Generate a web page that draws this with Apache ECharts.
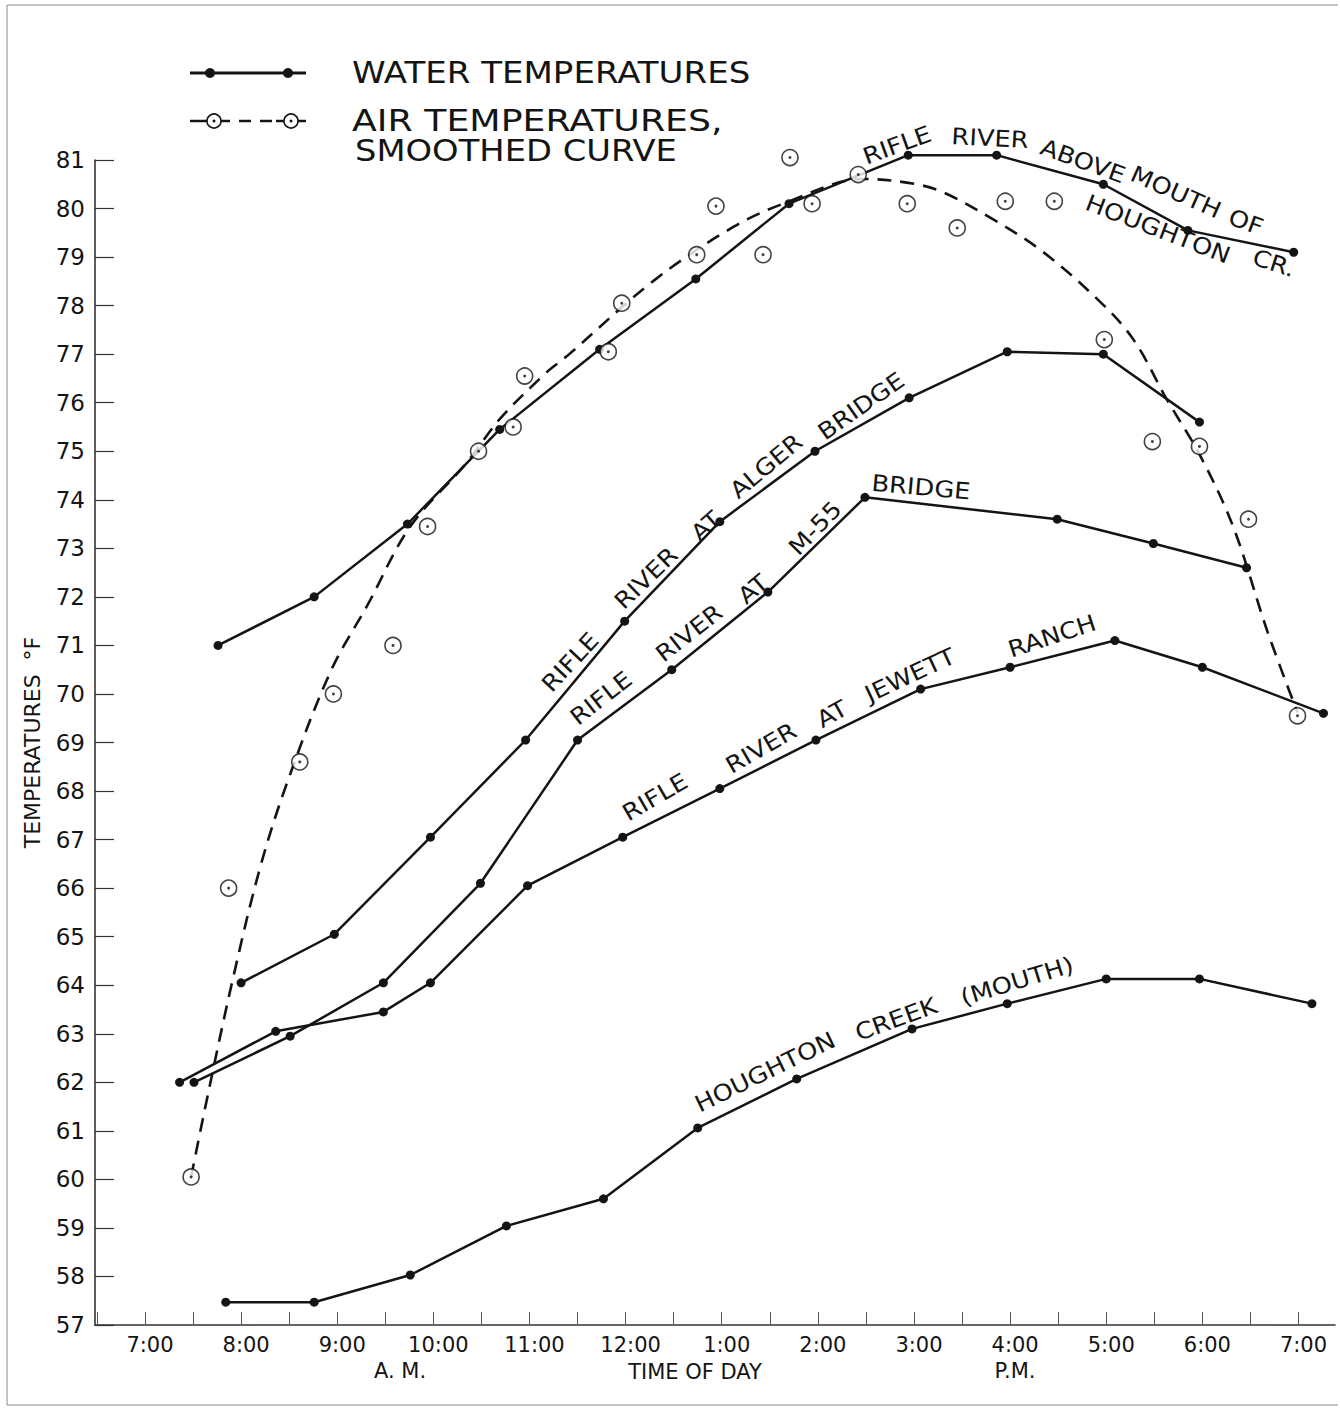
<!DOCTYPE html>
<html><head><meta charset="utf-8">
<script src="https://cdn.jsdelivr.net/npm/echarts@6/dist/echarts.min.js"></script>
<style>html,body{margin:0;padding:0;background:#fff}#c{width:1340px;height:1409px}</style>
</head><body><div id="c"></div>
<script>
// ---- axis ticks / labels (hours of day, 24h clock) ----
const xLabelHours = [7, 8, 9, 10, 11, 12, 13, 14, 15, 16, 17, 18, 19];
const xTickHours = [6.5, 7, 7.5, 8, 8.5, 9, 9.5, 10, 10.5, 11, 11.5, 12, 12.5, 13, 13.5, 14, 14.5, 15, 15.5, 16, 16.5, 17, 17.5, 18, 18.5, 19];

// ---- water temperatures (°F) ----
const aboveHours = [7.76, 8.76, 9.73, 10.69, 11.73, 12.73, 13.70, 14.94, 15.86, 16.97, 17.85, 18.95];
const aboveTemps = [71.0, 72.0, 73.5, 75.45, 77.1, 78.55, 80.1, 81.1, 81.1, 80.5, 79.55, 79.1];

const algerHours = [8.00, 8.97, 9.97, 10.96, 11.99, 12.98, 13.97, 14.95, 15.97, 16.97, 17.97];
const algerTemps = [64.05, 65.05, 67.05, 69.05, 71.5, 73.55, 75.0, 76.1, 77.05, 77.0, 75.6];

const m55Hours = [7.51, 8.51, 9.48, 10.49, 11.50, 12.48, 13.48, 14.49, 16.49, 17.49, 18.46];
const m55Temps = [62.0, 62.95, 64.05, 66.1, 69.05, 70.5, 72.1, 74.05, 73.6, 73.1, 72.6];

const jewettHours = [7.36, 8.36, 9.48, 9.97, 10.98, 11.97, 12.98, 13.98, 15.07, 16.00, 17.09, 18.00, 19.26];
const jewettTemps = [62.0, 63.05, 63.45, 64.05, 66.05, 67.05, 68.05, 69.05, 70.1, 70.55, 71.1, 70.55, 69.6];

const houghtonHours = [7.84, 8.76, 9.76, 10.76, 11.77, 12.75, 13.78, 14.98, 15.97, 17.00, 17.97, 19.14];
const houghtonTemps = [57.47, 57.47, 58.03, 59.04, 59.6, 61.06, 62.07, 63.1, 63.62, 64.13, 64.13, 63.62];

// ---- air temperatures: observations and smoothed curve ----
const airObsHours = [7.48, 7.87, 8.61, 8.96, 9.58, 9.94, 10.47, 10.83, 10.95, 11.82, 11.96, 12.74, 12.94, 13.43, 13.71, 13.94, 14.42, 14.93, 15.45, 15.95, 16.46, 16.98, 17.48, 17.97, 18.48, 18.99];
const airObsTemps = [60.05, 66.0, 68.6, 70.0, 71.0, 73.45, 75.0, 75.5, 76.55, 77.05, 78.05, 79.05, 80.05, 79.05, 81.05, 80.1, 80.7, 80.1, 79.6, 80.15, 80.15, 77.3, 75.2, 75.1, 73.6, 69.55];

const airCurveHours = [7.48, 7.66, 7.92, 8.20, 8.48, 8.93, 9.32, 9.76, 10.35, 10.69, 11.18, 11.39, 12.29, 13.12, 13.68, 14.47, 15.00, 15.32, 15.82, 16.32, 16.91, 17.28, 17.63, 17.98, 18.32, 18.68, 18.99];
const airCurveTemps = [60.05, 61.8, 64.18, 66.44, 68.18, 70.46, 71.85, 73.45, 74.77, 75.66, 76.63, 76.96, 78.51, 79.62, 80.13, 80.61, 80.51, 80.32, 79.78, 79.14, 78.13, 77.31, 76.07, 74.9, 73.45, 71.27, 69.62];

const zip = (xs, ys) => xs.map((x, i) => [x, ys[i]]);
const INK = '#141414';
const FONT = '"DejaVu Sans", "Liberation Sans", sans-serif';

function waterSeries(name, xs, ys) {
  return {
    name, type: 'line', data: zip(xs, ys), symbol: 'circle', symbolSize: 9,
    lineStyle: { color: INK, width: 2.5 }, itemStyle: { color: INK },
    clip: false, z: 4, silent: true
  };
}

function word(text, cx, cy, deg, size, sx) {
  return {
    type: 'text', x: cx, y: cy, rotation: deg * Math.PI / 180, scaleX: sx || 1.12,
    style: { text, fill: INK, font: `${size || 23}px ${FONT}`, textAlign: 'center', textVerticalAlign: 'middle' },
    z: 10
  };
}

const labelWords = [
  ['RIFLE', 897, 145, 20], ['RIVER', 990, 138, -3], ['ABOVE', 1083, 161, -20], ['MOUTH', 1176, 192, -24], ['OF', 1246, 222, -20],
  ['HOUGHTON', 1158, 229, -21], ['CR.', 1274, 263, -18],
  ['RIFLE', 570, 662, 47], ['RIVER', 646, 578, 44], ['AT', 706, 526, 42], ['ALGER', 766, 466, 40], ['BRIDGE', 861, 406, 35],
  ['RIFLE', 601, 698, 38], ['RIVER', 689, 633, 38], ['AT', 753, 589, 40], ['M-55', 815, 528, 46], ['BRIDGE', 921, 487, -5],
  ['RIFLE', 655, 797, 30], ['RIVER', 761, 748, 30], ['AT', 832, 714, 29], ['JEWETT', 910, 675, 25], ['RANCH', 1052, 636, 18],
  ['HOUGHTON', 765, 1072, 26], ['CREEK', 896, 1019, 20], ['(MOUTH)', 1017, 981, 17]
];

function ring(cx, cy) {
  return [
    { type: 'circle', shape: { cx, cy, r: 7 }, style: { fill: '#fff', stroke: INK, lineWidth: 1.6 }, z: 10 },
    { type: 'circle', shape: { cx, cy, r: 1.5 }, style: { fill: INK }, z: 11 }
  ];
}
function seg(x1, y1, x2, y2, w) {
  return { type: 'line', shape: { x1, y1, x2, y2 }, style: { stroke: INK, lineWidth: w || 2.5 }, z: 9 };
}
function legendText(text, x, y, sx) {
  return { type: 'text', x, y, scaleX: sx, style: { text, fill: INK, font: `30px ${FONT}`, textAlign: 'left', textVerticalAlign: 'middle' } };
}

const graphics = [
  // page frame of the scanned sheet
  { type: 'polyline', shape: { points: [[1338, 5], [7, 5], [7, 1405], [1338, 1405]] }, style: { stroke: '#8a8a8a', lineWidth: 1, fill: null }, z: 0 },
  // legend: water
  seg(190, 73, 306, 73, 3),
  { type: 'circle', shape: { cx: 210, cy: 73, r: 5 }, style: { fill: INK }, z: 10 },
  { type: 'circle', shape: { cx: 288, cy: 73, r: 5 }, style: { fill: INK }, z: 10 },
  legendText('WATER TEMPERATURES', 352, 73, 1.135),
  // legend: air
  seg(190, 121, 207, 121), seg(221, 121, 230, 121), seg(239, 121, 251, 121), seg(260, 121, 272, 121), seg(276, 121, 284, 121), seg(298, 121, 306, 121),
  ...ring(214, 121), ...ring(291, 121),
  legendText('AIR TEMPERATURES,', 352, 121, 1.21),
  legendText('SMOOTHED CURVE', 355, 151, 1.125),
  // x-axis sub captions
  { type: 'text', x: 400, y: 1371, style: { text: 'A. M.', fill: INK, font: `21px ${FONT}`, textAlign: 'center', textVerticalAlign: 'middle' } },
  { type: 'text', x: 1015, y: 1371, style: { text: 'P.M.', fill: INK, font: `21px ${FONT}`, textAlign: 'center', textVerticalAlign: 'middle' } },
  ...labelWords.map(w => word(w[0], w[1], w[2], w[3]))
];

const chart = echarts.init(document.getElementById('c'), null, { renderer: 'svg' });
chart.setOption({
  animation: false,
  backgroundColor: '#fff',
  textStyle: { fontFamily: FONT, color: INK },
  grid: { left: 95, right: 5, top: 160, bottom: 84, containLabel: false },
  xAxis: {
    type: 'value', min: 6.48, max: 19.38,
    name: 'TIME OF DAY', nameLocation: 'middle', nameGap: 36,
    nameTextStyle: { fontSize: 21, color: INK, padding: [0, 40, 0, 0] },
    axisLine: { lineStyle: { color: '#333', width: 1.6 } },
    axisTick: { customValues: xTickHours, inside: true, length: 13, lineStyle: { color: '#555', width: 1 } },
    axisLabel: {
      customValues: xLabelHours, fontSize: 21, color: INK, margin: 9, padding: [0, 0, 0, 10],
      formatter: v => (((Math.round(v) - 1) % 12) + 1) + ':00'
    },
    splitLine: { show: false }
  },
  yAxis: {
    type: 'value', min: 57, max: 81, interval: 1,
    name: 'TEMPERATURES  °F', nameLocation: 'middle', nameGap: 52, nameRotate: 90,
    nameTextStyle: { fontSize: 22, color: INK },
    axisLine: { show: true, lineStyle: { color: '#333', width: 1.6 } },
    axisTick: { show: true, inside: true, length: 19, lineStyle: { color: '#333', width: 1.2 } },
    axisLabel: { fontSize: 23, color: INK, margin: 10 },
    splitLine: { show: false }
  },
  legend: { show: false },
  graphic: graphics,
  series: [
    waterSeries('Rifle River above mouth of Houghton Cr.', aboveHours, aboveTemps),
    waterSeries('Rifle River at Alger Bridge', algerHours, algerTemps),
    waterSeries('Rifle River at M-55 Bridge', m55Hours, m55Temps),
    waterSeries('Rifle River at Jewett Ranch', jewettHours, jewettTemps),
    waterSeries('Houghton Creek (mouth)', houghtonHours, houghtonTemps),
    {
      name: 'Air temperatures, smoothed curve', type: 'line', data: zip(airCurveHours, airCurveTemps),
      smooth: 0.35, showSymbol: false, symbol: 'none', clip: false,
      lineStyle: { color: INK, width: 2.6, type: [14, 9] }, z: 3, silent: true
    },
    {
      name: 'Air temperatures', type: 'scatter', data: zip(airObsHours, airObsTemps),
      symbol: 'circle', symbolSize: 16, clip: false,
      itemStyle: { color: '#fff', borderColor: INK, borderWidth: 1.6 }, z: 5, silent: true
    },
    {
      name: 'Air temperatures (centre)', type: 'scatter', data: zip(airObsHours, airObsTemps),
      symbol: 'circle', symbolSize: 3, clip: false, itemStyle: { color: INK }, z: 6, silent: true
    }
  ]
});
</script>
</body></html>
